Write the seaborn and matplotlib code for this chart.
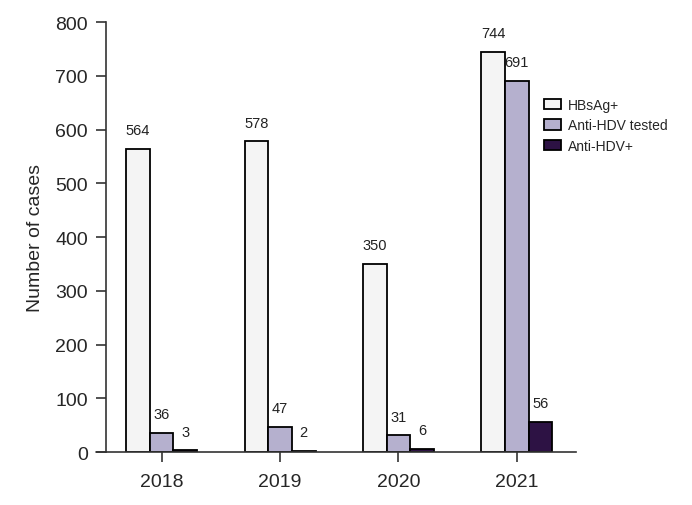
import numpy as np
import pandas as pd
import matplotlib
matplotlib.use("Agg")
import matplotlib.pyplot as plt
import seaborn as sns

# dados
anos = ["2018", "2019", "2020", "2021"]
series = ["HBsAg+", "Anti-HDV tested", "Anti-HDV+"]
hbsag = [564, 578, 350, 744]
hdv_testados = [36, 47, 31, 691]
hdv_pos = [3, 2, 6, 56]
cores = ["#F4F4F4", "#B1ABD3", "#2E0A4C"]

df = pd.DataFrame({
    "ano": anos * 3,
    "serie": [series[0]] * 4 + [series[1]] * 4 + [series[2]] * 4,
    "casos": hbsag + hdv_testados + hdv_pos,
})

sns.set_style("ticks")
plt.rcParams["font.family"] = ["Liberation Sans", "DejaVu Sans"]

fig = plt.figure(figsize=(6.92, 5.06), dpi=100)
ax = fig.add_axes([106 / 692, 1 - 453 / 506, 470 / 692, 430 / 506])

sns.barplot(data=df, x="ano", y="casos", hue="serie", hue_order=series,
            order=anos, palette=cores, width=0.6, edgecolor="black",
            linewidth=1.3, ax=ax, legend=True)

for c in ax.containers:
    ax.bar_label(c, fmt="%d", padding=8.5, fontsize=10.5, color="#222222")

ax.set_ylim(0, 800)
ax.set_yticks(np.arange(0, 801, 100))
ax.set_xlim(-0.47, 3.5)
ax.set_xlabel("")
ax.set_ylabel("Number of cases", fontsize=14, labelpad=8)
ax.tick_params(axis="both", labelsize=14, length=7, width=1.2, color="#333333", direction="out")
ax.tick_params(axis="y", pad=6)
ax.tick_params(axis="x", pad=8)
sns.despine(ax=ax)
for lado in ["left", "bottom"]:
    ax.spines[lado].set_linewidth(1.2)
    ax.spines[lado].set_color("#333333")
# eixo x continua um pouco para a esquerda
ax.plot([-0.0213, 0], [0, 0], transform=ax.transAxes, color="#333333",
        linewidth=1.2, clip_on=False)

handles, labels = ax.get_legend_handles_labels()
ax.legend(handles, labels, loc="upper left", bbox_to_anchor=(0.776, 0.818),
          bbox_transform=fig.transFigure, frameon=False, fontsize=10,
          borderpad=0, handlelength=1.2, handleheight=0.75,
          handletextpad=0.5, labelspacing=0.45)

fig.savefig("out.png", dpi=100)
